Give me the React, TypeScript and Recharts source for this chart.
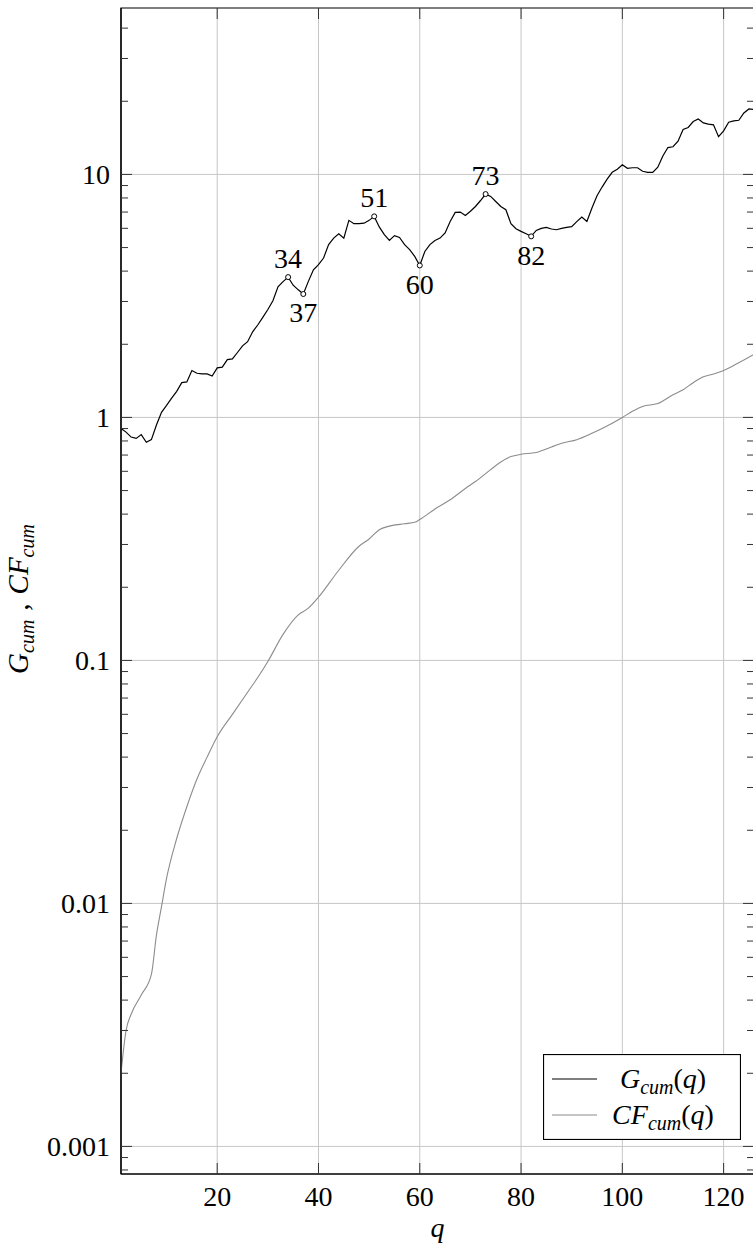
import React from "react";
import {
  LineChart,
  Line,
  XAxis,
  YAxis,
  CartesianGrid,
  ReferenceDot,
  ReferenceArea,
  Legend,
} from "recharts";

const FONT = "'Liberation Serif', 'DejaVu Serif', serif";
const FS = 28;
const SUB = 20;

// G_cum(q), one value per q = 1..126
const gValues = [
  0.9, 0.87, 0.83, 0.82, 0.85, 0.79, 0.81, 0.93, 1.05, 1.12,
  1.2, 1.28, 1.39, 1.4, 1.56, 1.52, 1.51, 1.51, 1.48, 1.6,
  1.61, 1.73, 1.74, 1.85, 1.97, 2.05, 2.25, 2.4, 2.58, 2.78,
  3.02, 3.45, 3.62, 3.78, 3.5, 3.35, 3.22, 3.63, 4.05, 4.25,
  4.53, 5.14, 5.47, 5.7, 5.47, 6.47, 6.27, 6.27, 6.3, 6.47,
  6.72, 6.08, 5.65, 5.35, 5.6, 5.5, 5.14, 4.9, 4.6, 4.22,
  4.82, 5.14, 5.35, 5.47, 5.74, 6.4, 6.98, 7.0, 6.78, 7.05,
  7.38, 7.81, 8.3, 8.12, 7.74, 7.38, 7.16, 6.27, 5.98, 5.83,
  5.7, 5.56, 5.88, 6.0, 6.05, 5.96, 5.92, 6.0, 6.05, 6.1,
  6.39, 6.68, 6.4, 7.27, 8.17, 8.87, 9.57, 10.2, 10.5, 10.96,
  10.6, 10.65, 10.65, 10.3, 10.2, 10.2, 10.7, 11.9, 12.9, 13.0,
  13.7, 15.3, 15.6, 16.5, 16.9, 16.3, 16.1, 16.0, 14.3, 15.1,
  16.4, 16.6, 16.7, 17.9, 18.6, 18.5,
];

// CF_cum(q), read at these q
const cfQ = [
  1, 2, 3, 5, 7, 8, 9, 10, 12, 14, 16, 18, 20, 23, 26, 28, 30, 33, 36, 38,
  40, 44, 48, 50, 52, 54, 57, 59, 60, 63, 66, 69, 71, 74, 76, 78, 80, 83, 86,
  88, 91, 94, 96, 100, 102, 104, 107, 110, 112, 114, 116, 118, 120, 123, 126,
];
const cfValues = [
  0.002, 0.003, 0.0035, 0.0042, 0.0051, 0.0074, 0.0097, 0.0127, 0.0185,
  0.025, 0.0325, 0.04, 0.0485, 0.06, 0.074, 0.085, 0.099, 0.128, 0.154,
  0.164, 0.182, 0.235, 0.295, 0.316, 0.345, 0.357, 0.365, 0.37, 0.38, 0.42,
  0.458, 0.51, 0.545, 0.61, 0.655, 0.69, 0.705, 0.717, 0.755, 0.783, 0.81,
  0.86, 0.9, 1.0, 1.06, 1.11, 1.14, 1.24, 1.3, 1.39, 1.47, 1.51, 1.56, 1.68,
  1.82,
];

const peakQ = [34, 37, 51, 60, 73, 82];
const peakSide = ["top", "bottom", "top", "bottom", "top", "bottom"];

const xTicks = [20, 40, 60, 80, 100, 120];
const yTicks = [0.001, 0.01, 0.1, 1, 10];
const yMinorTicks = [
  0.0008, 0.0009,
  0.002, 0.003, 0.004, 0.005, 0.006, 0.007, 0.008, 0.009,
  0.02, 0.03, 0.04, 0.05, 0.06, 0.07, 0.08, 0.09,
  0.2, 0.3, 0.4, 0.5, 0.6, 0.7, 0.8, 0.9,
  2, 3, 4, 5, 6, 7, 8, 9,
  20, 30, 40,
];
const yAllTicks = [...yTicks, ...yMinorTicks].sort((a, b) => a - b);

const xDomain = [1, 126];
const yDomain = [0.00077, 48.4];

const seriesLabels = [
  { key: "g", main: "G", sub: "cum" },
  { key: "cf", main: "CF", sub: "cum" },
];

const gData = gValues.map((v, i) => ({ q: i + 1, g: v }));
const cfData = cfQ.map((q, i) => ({ q, cf: cfValues[i] }));

// plot box (chart coords), set by margins / axis sizes below
const CHART_W = 762;
const CHART_H = 1245;
const M_TOP = 8;
const M_RIGHT = 8;
const Y_W = 121;
const X_H = 71;
const PLOT_L = Y_W;
const PLOT_R = CHART_W - M_RIGHT;
const PLOT_T = M_TOP;
const PLOT_B = CHART_H - X_H;
const MAJOR = 11;
const MINOR = 7;
const TICK_COLOR = "#333";

const txt = { fontFamily: FONT, fontSize: FS, fill: "#000" };

function YTick(props: any) {
  const { x, y, payload } = props;
  const v = payload.value;
  const major = yTicks.includes(v);
  const len = major ? MAJOR : MINOR;
  return (
    <g>
      <line x1={PLOT_L} x2={PLOT_L + len} y1={y} y2={y} stroke={TICK_COLOR} strokeWidth={1} />
      <line x1={PLOT_R - len} x2={PLOT_R} y1={y} y2={y} stroke={TICK_COLOR} strokeWidth={1} />
      {major && (
        <text x={x} y={y} dy="0.36em" textAnchor="end" style={txt}>
          {String(v)}
        </text>
      )}
    </g>
  );
}

function XTick(props: any) {
  const { x, y, payload } = props;
  return (
    <g>
      <line x1={x} x2={x} y1={PLOT_B - MAJOR} y2={PLOT_B} stroke={TICK_COLOR} strokeWidth={1} />
      <line x1={x} x2={x} y1={PLOT_T} y2={PLOT_T + MAJOR} stroke={TICK_COLOR} strokeWidth={1} />
      <text x={x} y={y} dy="0.7em" textAnchor="middle" style={txt}>
        {String(payload.value)}
      </text>
    </g>
  );
}

function YLabel(props: any) {
  const vb = props.viewBox;
  const cx = vb.x + 28;
  const cy = vb.y + vb.height / 2 + 8;
  return (
    <text
      transform={`translate(${cx},${cy}) rotate(-90)`}
      textAnchor="middle"
      style={{ ...txt, fontSize: 29 }}
    >
      <tspan fontStyle="italic">G</tspan>
      <tspan fontStyle="italic" fontSize={SUB} dy={6}>cum</tspan>
      <tspan dy={-6} dx={9}>,</tspan>
      <tspan fontStyle="italic" dx={9}>CF</tspan>
      <tspan fontStyle="italic" fontSize={SUB} dy={6}>cum</tspan>
    </text>
  );
}

function XLabel(props: any) {
  const vb = props.viewBox;
  return (
    <text
      x={vb.x + vb.width / 2}
      y={vb.y + 63}
      textAnchor="middle"
      fontStyle="italic"
      style={txt}
    >
      q
    </text>
  );
}

function LegendBox(props: any) {
  const payload = props.payload || [];
  return (
    <svg width={198} height={86} style={{ display: "block" }}>
      <rect x={0.5} y={0.5} width={197} height={85} fill="#fff" stroke="#000" strokeWidth={1.2} />
      {seriesLabels.map((lab, i) => {
        const entry = payload.find((p: any) => p.dataKey === lab.key) || {};
        const cy = 25 + i * 36;
        return (
          <g key={lab.key}>
            <line x1={9} x2={54} y1={cy} y2={cy} stroke={entry.color} strokeWidth={1.2} />
            <text x={120} y={cy + 9} textAnchor="middle" style={txt}>
              <tspan fontStyle="italic">{lab.main}</tspan>
              <tspan fontStyle="italic" fontSize={SUB} dy={6}>{lab.sub}</tspan>
              <tspan dy={-6}>(</tspan>
              <tspan fontStyle="italic">q</tspan>
              <tspan>)</tspan>
            </text>
          </g>
        );
      })}
    </svg>
  );
}

export default function App() {
  return (
    <div
      style={{
        position: "absolute",
        left: 0,
        top: 0,
        width: 753,
        height: 1245,
        overflow: "hidden",
        background: "#fff",
      }}
    >
      <LineChart
        width={CHART_W}
        height={CHART_H}
        margin={{ top: M_TOP, right: M_RIGHT, bottom: 0, left: 0 }}
      >
        <CartesianGrid
          stroke="#c6c6c6"
          strokeWidth={1}
          horizontalValues={yTicks}
          verticalValues={xTicks}
        />
        <XAxis
          type="number"
          dataKey="q"
          domain={xDomain}
          allowDataOverflow
          ticks={xTicks}
          interval={0}
          height={X_H}
          tickLine={false}
          tickSize={0}
          tickMargin={12}
          axisLine={{ stroke: "#000", strokeWidth: 1.2 }}
          tick={<XTick />}
          label={<XLabel />}
        />
        <YAxis
          type="number"
          scale="log"
          domain={yDomain}
          allowDataOverflow
          ticks={yAllTicks}
          interval={0}
          width={Y_W}
          tickLine={false}
          tickSize={0}
          tickMargin={11}
          axisLine={{ stroke: "#000", strokeWidth: 1.2 }}
          tick={<YTick />}
          label={<YLabel />}
        />
        <ReferenceArea
          x1={xDomain[0]}
          x2={xDomain[1]}
          y1={yDomain[0]}
          y2={yDomain[1]}
          fill="none"
          fillOpacity={0}
          stroke="#000"
          strokeWidth={1.2}
          ifOverflow="visible"
        />
        <Line
          data={gData}
          dataKey="g"
          name="G"
          type="linear"
          stroke="#000"
          strokeWidth={1.2}
          dot={false}
          isAnimationActive={false}
        />
        <Line
          data={cfData}
          dataKey="cf"
          name="CF"
          type="monotone"
          stroke="#8c8c8c"
          strokeWidth={1.1}
          dot={false}
          isAnimationActive={false}
        />
        {peakQ.map((q, i) => (
          <ReferenceDot
            key={q}
            x={q}
            y={gValues[q - 1]}
            r={2.5}
            fill="#fff"
            stroke="#000"
            strokeWidth={1}
            ifOverflow="visible"
            label={{
              value: String(q),
              position: peakSide[i] as any,
              offset: peakSide[i] === "top" ? 7 : 6,
              fontSize: FS,
              fontFamily: FONT,
              fill: "#000",
            }}
          />
        ))}
        <Legend
          layout="vertical"
          align="center"
          verticalAlign="middle"
          wrapperStyle={{ position: "absolute", left: 543, top: 1054, width: 198, height: 86 }}
          content={(p: any) => <LegendBox payload={p.payload} />}
        />
      </LineChart>
    </div>
  );
}
